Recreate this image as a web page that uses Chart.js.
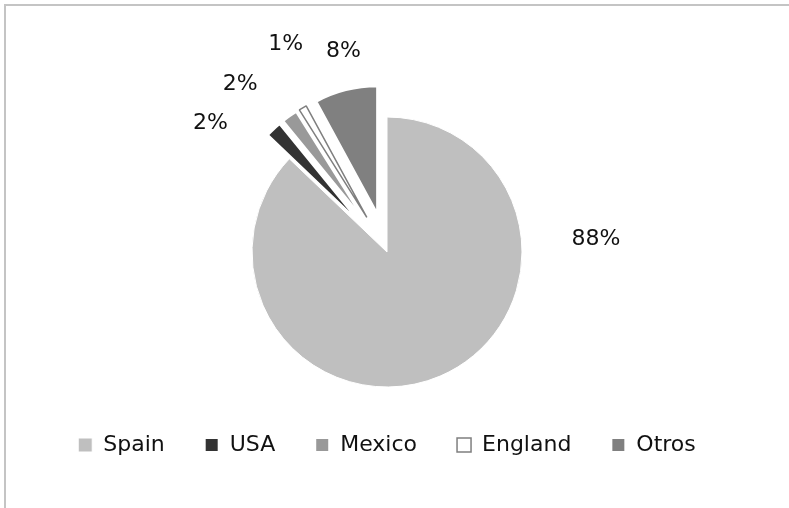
<!DOCTYPE html>
<html lang="es">
  <head>
    <meta charset="UTF-8" />
    <script src="https://cdn.jsdelivr.net/npm/chart.js"></script>
    <title>Procedencia</title>
    <style>
      body { margin: 0; background: #fff; }
      #wrap { position: relative; width: 789px; height: 508px; overflow: hidden; }
      #frame {
        position: absolute; left: 4px; top: 4px; width: 800px; height: 520px;
        border-left: 2px solid #c4c4c4; border-top: 2px solid #c4c4c4;
      }
      canvas { position: absolute; left: 0; top: 0; }
    </style>
  </head>

  <body>
    <div id="wrap">
      <div id="frame"></div>
      <canvas id="myChart" width="789" height="508"></canvas>
    </div>
    <script>
      const paises = ["Spain", "USA", "Mexico", "England", "Otros"];
      const porcentajes = [88, 2, 2, 1, 8];
      const colores = ["#bfbfbf", "#333333", "#999999", "#ffffff", "#808080"];
      const bordes = ["#ffffff", "#ffffff", "#ffffff", "#7f7f7f", "#ffffff"];
      // porciones separadas del centro (px) y radio que tienen una vez separadas
      const separadas = [false, true, true, true, true];
      const SEPARACION = 40;
      const RADIO_SEPARADAS = 127;
      // donde va cada etiqueta: giro (grados) respecto al centro de la porcion y distancia en radios
      const giroEtiqueta = [-70.3, -11.1, -5.6, 4.3, 2.0];
      const distEtiqueta = [1.55, 1.62, 1.65, 1.71, 1.52];

      // saca las porciones pequeñas hacia fuera, en la direccion de su angulo medio
      const explotar = {
        id: "explotar",
        afterDatasetUpdate(chart, args) {
          args.meta.data.forEach((arc, i) => {
            if (!separadas[i]) return;
            const medio = (arc.startAngle + arc.endAngle) / 2;
            arc.x += Math.cos(medio) * SEPARACION;
            arc.y += Math.sin(medio) * SEPARACION;
            arc.outerRadius = RADIO_SEPARADAS;
          });
        },
      };

      const etiquetas = {
        id: "etiquetas",
        afterDatasetsDraw(chart) {
          const ctx = chart.ctx;
          const meta = chart.getDatasetMeta(0);
          const radio = meta.controller.outerRadius;
          const cx = (chart.chartArea.left + chart.chartArea.right) / 2;
          const cy = (chart.chartArea.top + chart.chartArea.bottom) / 2;
          ctx.save();
          ctx.font = "22px 'DejaVu Sans'";
          ctx.fillStyle = "#111";
          ctx.textAlign = "center";
          ctx.textBaseline = "middle";
          meta.data.forEach((arc, i) => {
            const a = (arc.startAngle + arc.endAngle) / 2 + giroEtiqueta[i] * Math.PI / 180;
            const r = radio * distEtiqueta[i];
            ctx.fillText(porcentajes[i] + "%", cx + Math.cos(a) * r, cy + Math.sin(a) * r);
          });
          ctx.restore();
        },
      };

      const config = {
        type: "pie",
        data: {
          labels: paises,
          datasets: [
            {
              data: porcentajes,
              backgroundColor: colores,
              borderColor: bordes,
              borderWidth: [1, 2, 2, 1.5, 2],
              clip: false,
            },
          ],
        },
        options: {
          responsive: false,
          animation: false,
          radius: 135,
          layout: { padding: { top: 110, bottom: 42, left: 2, right: 17 } },
          plugins: {
            legend: {
              position: "bottom",
              labels: {
                font: { family: "'DejaVu Sans'", size: 22 },
                color: "#111",
                boxWidth: 14,
                boxHeight: 14,
                padding: 40,
              },
            },
            tooltip: { enabled: false },
          },
        },
        plugins: [explotar, etiquetas],
      };
      var myChart = new Chart(document.getElementById("myChart"), config);
    </script>
  </body>
</html>
